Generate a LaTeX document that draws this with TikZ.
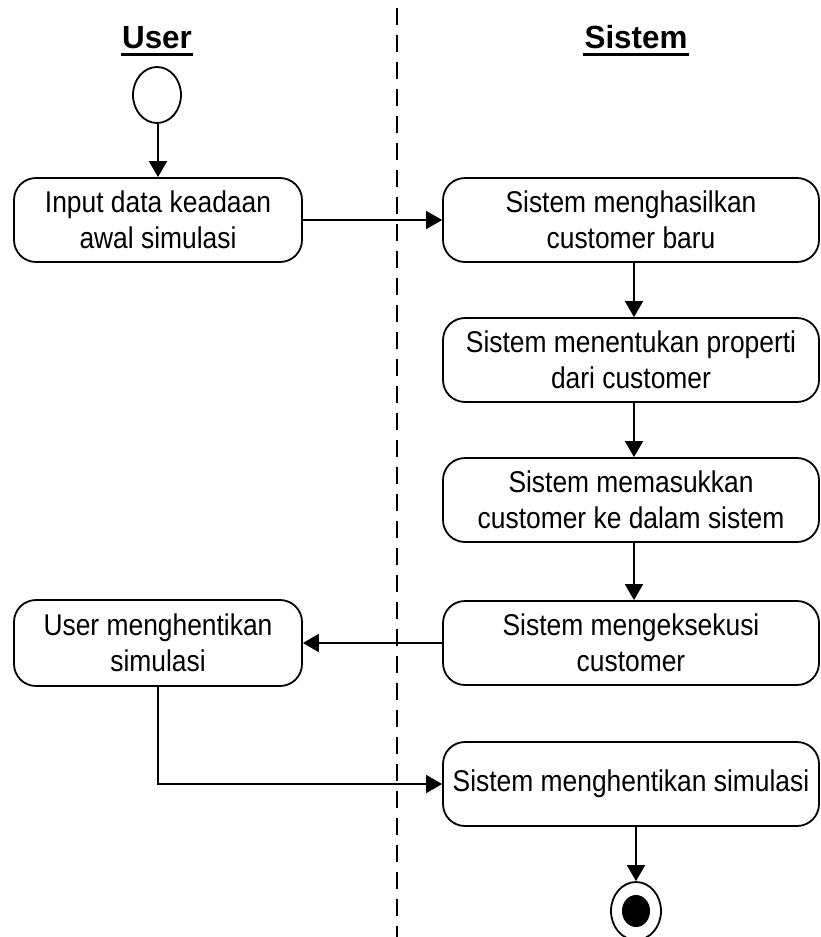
\documentclass[tikz,border=0pt]{standalone}
\usepackage{fontspec}
\setmainfont{Liberation Sans}[FakeStretch=0.88]
\newfontfamily\headfont{Liberation Sans}[FakeStretch=0.98]
\usetikzlibrary{arrows.meta,shapes.geometric}
\tikzset{
  act/.style={draw, line width=1.8pt, rounded corners=22pt, inner sep=0pt,
    align=center, font=\fontsize{30}{36}\selectfont},
  flow/.style={line width=1.8pt, -{Triangle[length=16pt,width=18pt]}},
  lane/.style={font=\headfont\fontsize{32}{36}\selectfont\bfseries, inner sep=0pt},
}
\begin{document}
\begin{tikzpicture}[x=1pt,y=-1pt]
\useasboundingbox (0,0) rectangle (820,937);
% swimlane divider
\draw[line width=1.8pt, dash pattern=on 17pt off 10pt] (397,8) -- (397,937);
% lane headings, underlined
\node[lane, anchor=base] (hu) at (157,48) {User};
\draw[line width=3pt] ([xshift=-1pt]hu.west |- 0,54) -- ([xshift=1pt]hu.east |- 0,54);
\node[lane, anchor=base] (hs) at (636,48) {Sistem};
\draw[line width=3pt] ([xshift=-1pt]hs.west |- 0,54) -- ([xshift=1pt]hs.east |- 0,54);
% start and end states
\node[draw, line width=1.8pt, ellipse, minimum width=48pt, minimum height=56pt, inner sep=0pt] (start) at (157,95) {};
\node[draw, line width=1.8pt, ellipse, minimum width=50pt, minimum height=58pt, inner sep=0pt] (end) at (636,911) {};
\fill (end.center) ellipse[x radius=14pt, y radius=16pt];
% activities
\node[act, minimum width=288pt, minimum height=84pt] (input) at (158,220) {Input data keadaan\\awal simulasi};
\node[act, minimum width=288pt, minimum height=86pt] (stop) at (158,643) {User menghentikan\\simulasi};
\node[act, minimum width=376pt, minimum height=84pt] (gen) at (631,220) {Sistem menghasilkan\\customer baru};
\node[act, minimum width=376pt, minimum height=84pt] (prop) at (631,360) {Sistem menentukan properti\\dari customer};
\node[act, minimum width=376pt, minimum height=84pt] (ins) at (631,500) {Sistem memasukkan\\customer ke dalam sistem};
\node[act, minimum width=376pt, minimum height=84pt] (exec) at (631,643) {Sistem mengeksekusi\\customer};
\node[act, minimum width=376pt, minimum height=84pt] (halt) at (631,784) {Sistem menghentikan simulasi};
% transitions
\draw[flow] (start.south -| input.north) -- (input.north);
\draw[flow] (input.east) -- (gen.west);
\draw[flow] (gen.south -| 634,0) -- (prop.north -| 634,0);
\draw[flow] (prop.south -| 634,0) -- (ins.north -| 634,0);
\draw[flow] (ins.south -| 634,0) -- (exec.north -| 634,0);
\draw[flow] (exec.west) -- (stop.east);
\draw[flow] (stop.south) -- (stop.south |- halt.west) -- (halt.west);
\draw[flow] (halt.south -| end.north) -- (end.north);
\end{tikzpicture}
\end{document}
